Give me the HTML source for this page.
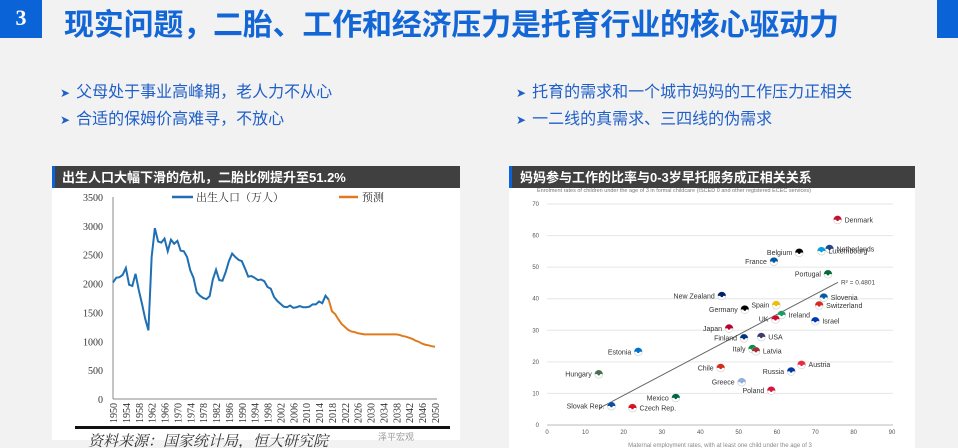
<!DOCTYPE html>
<html><head><meta charset="utf-8"><style>
body{margin:0;width:958px;height:448px;overflow:hidden;background:#f2f2f2;font-family:"Liberation Sans","Noto Sans CJK SC",sans-serif;position:relative}
.abs{position:absolute}
.bul{font-size:16px;color:#1f5fc8;white-space:nowrap}
.bul b{font-weight:normal;font-size:12px;margin-right:6px}
</style></head><body>
<div class="abs" style="left:0;top:0;width:42px;height:38px;background:#0a64d8;color:#fff;font:bold 22px 'Liberation Serif',serif;text-align:center;line-height:36px">3</div>
<div class="abs" style="left:64px;top:0px;font-size:30px;font-weight:bold;color:#1366d6;letter-spacing:-0.2px;white-space:nowrap">现实问题，二胎、工作和经济压力是托育行业的核心驱动力</div>
<div class="abs" style="left:937px;top:0;width:21px;height:38px;background:#0a64d8"></div>
<div class="abs bul" style="left:60px;top:78px"><b>➤</b>父母处于事业高峰期，老人力不从心</div>
<div class="abs bul" style="left:60px;top:105px"><b>➤</b>合适的保姆价高难寻，不放心</div>
<div class="abs bul" style="left:516px;top:78px"><b>➤</b>托育的需求和一个城市妈妈的工作压力正相关</div>
<div class="abs bul" style="left:516px;top:105px"><b>➤</b>一二线的真需求、三四线的伪需求</div>

<svg class="abs" style="left:0;top:0" width="958" height="448">
<rect x="52" y="188" width="408" height="252" fill="#fff"/>
<rect x="52" y="166" width="408" height="22" fill="#404040"/>
<rect x="52" y="166" width="3" height="22" fill="#0a64d8"/>
<text x="62" y="182" fill="#fff" font-size="13" font-weight="bold">出生人口大幅下滑的危机，二胎比例提升至51.2%</text>
<rect x="509" y="188" width="406" height="260" fill="#fff"/>
<rect x="509" y="166" width="406" height="22" fill="#404040"/>
<rect x="509" y="166" width="3" height="22" fill="#0a64d8"/>
<text x="520" y="182" fill="#fff" font-size="13" font-weight="bold">妈妈参与工作的比率与0-3岁早托服务成正相关关系</text>
<g id="left"></g>
<g id="right"></g>
</svg>
<script>
const NS="http://www.w3.org/2000/svg";
function mk(p,t,a,txt){const e=document.createElementNS(NS,t);for(const k in a)e.setAttribute(k,a[k]);if(txt!=null)e.textContent=txt;p.appendChild(e);return e;}

// ---- left chart data ----
const histYears=[];for(let y=1950;y<=2017;y++)histYears.push(y);
const histBirths=[2020,2100,2110,2150,2270,1980,1960,2170,1890,1650,1390,1190,2460,2960,2730,2710,2780,2560,2760,2690,2740,2570,2560,2460,2230,2100,1850,1790,1750,1730,1780,2070,2240,2060,2050,2200,2390,2520,2460,2410,2390,2260,2120,2130,2100,2060,2070,2040,1940,1910,1770,1700,1650,1600,1590,1620,1580,1590,1610,1590,1590,1600,1640,1640,1690,1660,1790,1720];
const fcYears=[];for(let y=2017;y<=2050;y++)fcYears.push(y);
const fcBirths=[1720,1520,1470,1380,1300,1250,1200,1170,1160,1140,1130,1120,1120,1120,1120,1120,1120,1120,1120,1120,1120,1120,1110,1090,1080,1060,1040,1010,990,960,940,930,915,905];
const yTicks=[0,500,1000,1500,2000,2500,3000,3500];

const L=document.getElementById('left');
const lx=y=>113+(y-1950)*(435-113)/100;
const ly=v=>399-v*(399-197)/3500;
mk(L,'line',{x1:113,y1:197,x2:113,y2:399,stroke:'#888','stroke-width':1});
mk(L,'line',{x1:113,y1:399,x2:437,y2:399,stroke:'#888','stroke-width':1});
yTicks.forEach(v=>{const t=mk(L,'text',{x:103,y:ly(v)+4,'text-anchor':'end','font-size':10,'font-family':'Liberation Serif,serif',fill:'#333'},v);

});
for(let y=1950;y<=2050;y+=4){const t=mk(L,'text',{x:0,y:0,transform:`translate(${lx(y)+4},403) rotate(-90)`,'text-anchor':'end','font-size':10,'font-family':'Liberation Serif,serif',fill:'#333'},y);

}
const hp=mk(L,'polyline',{points:histYears.map((y,i)=>lx(y)+','+ly(histBirths[i])).join(' '),fill:'none',stroke:'#1f6fb4','stroke-width':2});


const fp=mk(L,'polyline',{points:fcYears.map((y,i)=>lx(y)+','+ly(fcBirths[i])).join(' '),fill:'none',stroke:'#e07a1c','stroke-width':2});


const lg1=mk(L,'line',{x1:172,y1:197,x2:193,y2:197,stroke:'#1f6fb4','stroke-width':2.5});


mk(L,'text',{x:196,y:201,'font-size':11,fill:'#333','font-family':'Noto Serif CJK SC,serif'},'出生人口（万人）');
const lg2=mk(L,'line',{x1:339,y1:197,x2:358,y2:197,stroke:'#e07a1c','stroke-width':2.5});


mk(L,'text',{x:362,y:201,'font-size':11,fill:'#333','font-family':'Noto Serif CJK SC,serif'},'预测');
mk(L,'rect',{x:75,y:426,width:375,height:3,fill:'#111'});
const src=mk(L,'text',{x:88,y:446,'font-size':15,'font-style':'italic',fill:'#333','font-family':'Noto Serif CJK SC,serif'},'资料来源：国家统计局，恒大研究院');


mk(L,'text',{x:378,y:440,'font-size':9,fill:'#999'},'泽平宏观');

// ---- right chart data ----
const countries=['Denmark','Netherlands','Luxembourg','Belgium','France','Portugal','Slovenia','Switzerland','Israel','New Zealand','Spain','Germany','Ireland','UK','Japan','Finland','USA','Italy','Latvia','Estonia','Austria','Chile','Russia','Greece','Poland','Hungary','Mexico','Slovak Rep.','Czech Rep.'];
const empRate=[75.8,73.7,71.6,65.8,59.2,73.3,72.2,71.0,70.0,45.6,59.8,51.6,61.2,59.6,47.5,51.4,55.9,53.6,54.5,23.8,66.4,45.3,63.7,50.8,58.5,13.5,33.6,16.8,22.3];
const enrol=[65.0,55.8,55.1,54.6,51.8,47.8,40.4,37.9,32.9,40.9,38.0,36.6,34.9,33.5,30.6,27.5,27.9,24.1,23.4,23.2,19.1,18.1,17.0,13.6,10.9,16.1,8.6,6.0,5.4];
const labelRight=[1,1,1,0,0,0,1,1,1,0,0,0,1,0,0,0,1,0,1,0,1,0,0,0,0,0,0,0,1];
const flagColors=['#c8102e','#21468b','#00a3e0','#000','#0055a4','#046a38','#005da4','#d52b1e','#0038b8','#012169','#f1bf00','#000','#169b62','#c8102e','#bc002d','#003580','#3c3b6e','#009246','#9e3039','#0072ce','#ed2939','#d52b1e','#0039a6','#8fb0e0','#dc143c','#477050','#006847','#0b4ea2','#d7141a'];
const trendX=[13.6,75.9], trendY=[5.3,45.2];
const xTicks=[0,10,20,30,40,50,60,70,80,90], rTicks=[0,10,20,30,40,50,60,70];

const R=document.getElementById('right');
const rx=v=>547+v*(892-547)/90;
const ry=v=>425-v*(425-204)/70;
mk(R,'text',{x:537,y:192,'font-size':5.5,fill:'#777'},'Enrolment rates of children under the age of 3 in formal childcare (ISCED 0 and other registered ECEC services)');
rTicks.forEach(v=>{mk(R,'line',{x1:547,x2:893,y1:ry(v),y2:ry(v),stroke:v?'#e6e6e6':'#bbb','stroke-width':1});
const t=mk(R,'text',{x:539,y:ry(v)+2,'text-anchor':'end','font-size':6,fill:'#555'},v);

});
xTicks.forEach(v=>{const t=mk(R,'text',{x:rx(v),y:434,'text-anchor':'middle','font-size':6,fill:'#555'},v);

});
const tl=mk(R,'line',{x1:rx(trendX[0]),y1:ry(trendY[0]),x2:rx(trendX[1]),y2:ry(trendY[1]),stroke:'#666','stroke-width':1});


mk(R,'text',{x:rx(trendX[1])+3,y:ry(trendY[1])+2,'font-size':6.5,fill:'#444'},'R² = 0.4801');
countries.forEach((c,i)=>{const x=rx(empRate[i]),y=ry(enrol[i]);
const g=mk(R,'g',{});


mk(g,'circle',{cx:x,cy:y,r:4,fill:'#fff',stroke:'#ccc','stroke-width':0.6});
mk(g,'path',{d:`M${x-4},${y} a4,4 0 0 1 8,0 z`,fill:flagColors[i]});
mk(g,'circle',{cx:x,cy:y,r:1.3,fill:flagColors[i]});
const r=labelRight[i];
mk(g,'text',{x:r?x+7:x-7,y:y+2.5,'text-anchor':r?'start':'end','font-size':7,fill:'#333'},c);});
mk(R,'text',{x:720,y:447,'text-anchor':'middle','font-size':6,fill:'#888'},'Maternal employment rates, with at least one child under the age of 3');
</script>
</body></html>
